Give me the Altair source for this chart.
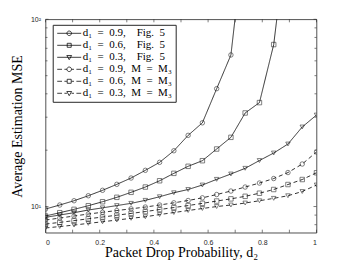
import altair as alt
import pandas as pd

# ---------------- data ----------------
d2 = [0.0, 0.0526, 0.1053, 0.1579, 0.2105, 0.2632, 0.3158, 0.3684, 0.4211, 0.4737,
      0.5263, 0.5789, 0.6316, 0.6842, 0.7368, 0.7895, 0.8421, 0.8947, 0.9474, 1.0]

mse_d09_fig5 = [9.70, 10.19, 10.74, 11.42, 12.21, 13.14, 14.20, 15.61, 17.22, 19.86,
                24.0, 28.0, 42.6, 64.5, 300.0]
mse_d06_fig5 = [8.90, 9.27, 9.66, 10.10, 10.61, 11.20, 11.91, 12.71, 13.73, 15.04,
                16.40, 17.57, 20.29, 23.42, 31.6, 35.9, 73.3, 310.0]
mse_d03_fig5 = [8.76, 9.01, 9.27, 9.58, 9.84, 10.12, 10.40, 10.79, 11.28, 11.85,
                12.33, 13.03, 13.97, 14.92, 16.0, 17.61, 19.31, 21.57, 26.6, 30.8]
mse_d09_m3 = [8.47, 8.68, 8.90, 9.12, 9.32, 9.52, 9.72, 9.94, 10.19, 10.47,
              10.77, 11.13, 11.59, 12.10, 12.71, 13.35, 14.11, 15.19, 16.87, 19.55]
mse_d06_m3 = [8.06, 8.23, 8.41, 8.60, 8.79, 8.99, 9.19, 9.40, 9.64, 9.88,
              10.12, 10.40, 10.70, 10.99, 11.34, 11.78, 12.33, 13.11, 13.94, 15.15]
mse_d03_m3 = [7.68, 7.82, 7.96, 8.13, 8.29, 8.47, 8.65, 8.82, 9.06, 9.29,
              9.52, 9.76, 10.0, 10.19, 10.44, 10.74, 11.06, 11.42, 12.03, 13.03]

series_labels = [
    "d\u2081\u2002=\u20020.9,\u2003Fig.\u20025",
    "d\u2081\u2002=\u20020.6,\u2003Fig.\u20025",
    "d\u2081\u2002=\u20020.3,\u2003Fig.\u20025",
    "d\u2081\u2002=\u20020.9,\u2002M\u2002=\u2002M\u2083",
    "d\u2081\u2002=\u20020.6,\u2002M\u2002=\u2002M\u2083",
    "d\u2081\u2002=\u20020.3,\u2002M\u2002=\u2002M\u2083",
]
series_values = [mse_d09_fig5, mse_d06_fig5, mse_d03_fig5, mse_d09_m3, mse_d06_m3, mse_d03_m3]
series_style = ["solid", "solid", "solid", "dashed", "dashed", "dashed"]

x_tick_values = [0, 0.1, 0.2, 0.3, 0.4, 0.5, 0.6, 0.7, 0.8, 0.9, 1]
y_major_ticks = [10, 100]
y_minor_ticks = [8, 9, 20, 30, 40, 50, 60, 70, 80, 90]

# ---------------- styling ----------------
marker_shapes = ["circle", "square", "triangle-down", "circle", "square", "triangle-down"]
_solid = "M-1,0H5"
_dash = "M-1,0H0.2M0.8,0H1.43M2.57,0H3.2M3.8,0H5"
_circ = "M1.43,0A0.57,0.57 0 1,0 2.57,0A0.57,0.57 0 1,0 1.43,0"
_sq = "M1.5,-0.5H2.5V0.5H1.5Z"
_tri = "M1.4,-0.45H2.6L2,0.6Z"
legend_paths = [_solid + _circ, _solid + _sq, _solid + _tri,
                _dash + _circ, _dash + _sq, _dash + _tri]

W, H = 271, 213.4
INK = "#262626"

rows = []
for label, style, vals in zip(series_labels, series_style, series_values):
    for x, v in zip(d2, vals):
        rows.append({"d2": x, "mse": v, "series": label, "style": style})
df = pd.DataFrame(rows)

x_scale = alt.Scale(domain=[0, 1], nice=False, zero=False)
y_scale = alt.Scale(type="log", domain=[7.25, 100], nice=False)

x_axis = alt.Axis(values=x_tick_values, format="~g", labelPadding=6,
                  titleBaseline="alphabetic", titleY=24)
y_axis = alt.Axis(values=y_major_ticks, labelPadding=5,
                  labelExpr="datum.value == 10 ? '10\u00b9' : '10\u00b2'",
                  titleBaseline="middle", titleX=-28.5, titleY=H / 2)

base = alt.Chart(df)

lines = base.mark_line(color="black", strokeWidth=0.8, clip=True).encode(
    x=alt.X("d2:Q", scale=x_scale, axis=x_axis, title="Packet Drop Probability, d\u2082"),
    y=alt.Y("mse:Q", scale=y_scale, axis=y_axis, title="Average Estimation MSE"),
    detail="series:N",
    strokeDash=alt.StrokeDash("style:N",
                              scale=alt.Scale(domain=["solid", "dashed"], range=[[1, 0], [4, 3]]),
                              legend=None),
)

points = base.mark_point(filled=False, color="black", size=20, strokeWidth=0.7, clip=True).encode(
    x=alt.X("d2:Q", scale=x_scale),
    y=alt.Y("mse:Q", scale=y_scale),
    shape=alt.Shape("series:N", scale=alt.Scale(domain=series_labels, range=marker_shapes),
                    legend=None),
)

legend_layer = base.mark_point(filled=False, color="black", opacity=0, size=64,
                               strokeWidth=0.75, clip=True).encode(
    x=alt.X("d2:Q", scale=x_scale),
    y=alt.Y("mse:Q", scale=y_scale),
    shape=alt.Shape("series:N", scale=alt.Scale(domain=series_labels, range=legend_paths),
                    legend=alt.Legend(title=None, orient="none", legendX=7.2, legendY=5.5,
                                      padding=3,
                                      labelFont="Liberation Serif", labelFontSize=11,
                                      labelColor="black", symbolSize=64,
                                      symbolStrokeColor="black", symbolStrokeWidth=0.75,
                                      symbolFillColor="transparent", symbolOpacity=1,
                                      labelOffset=16, rowPadding=0,
                                      strokeColor=INK, fillColor="white")),
)

xt = pd.DataFrame({"d2": x_tick_values})
ymaj = pd.DataFrame({"mse": y_major_ticks})
ymin = pd.DataFrame({"mse": y_minor_ticks})

tick_style = dict(color=INK, strokeWidth=0.6)
xt_bottom = alt.Chart(xt).mark_rule(**tick_style).encode(
    x=alt.X("d2:Q", scale=x_scale), y=alt.value(H), y2=alt.value(H - 3))
xt_top = alt.Chart(xt).mark_rule(**tick_style).encode(
    x=alt.X("d2:Q", scale=x_scale), y=alt.value(0), y2=alt.value(3))
ymaj_left = alt.Chart(ymaj).mark_rule(**tick_style).encode(
    y=alt.Y("mse:Q", scale=y_scale), x=alt.value(0), x2=alt.value(3))
ymaj_right = alt.Chart(ymaj).mark_rule(**tick_style).encode(
    y=alt.Y("mse:Q", scale=y_scale), x=alt.value(W), x2=alt.value(W - 3))
ymin_left = alt.Chart(ymin).mark_rule(**tick_style).encode(
    y=alt.Y("mse:Q", scale=y_scale), x=alt.value(0), x2=alt.value(2))
ymin_right = alt.Chart(ymin).mark_rule(**tick_style).encode(
    y=alt.Y("mse:Q", scale=y_scale), x=alt.value(W), x2=alt.value(W - 2))

chart = alt.layer(
    lines, points, legend_layer,
    xt_bottom, xt_top, ymaj_left, ymaj_right, ymin_left, ymin_right,
).resolve_scale(
    shape="independent"
).properties(
    width=W, height=H,
    autosize=alt.AutoSizeParams(type="none"),
    padding={"left": 37.5, "top": 11.3, "right": 18, "bottom": 27},
).configure_view(
    stroke=INK, strokeWidth=0.8
).configure_axis(
    labelFont="Liberation Sans", labelFontSize=7, labelColor=INK,
    titleFont="Liberation Serif", titleFontSize=14, titleColor="black",
    titleFontWeight="normal", ticks=False, domain=False, grid=False,
)

chart.save("out.html", embed_options={"renderer": "svg", "actions": False})
